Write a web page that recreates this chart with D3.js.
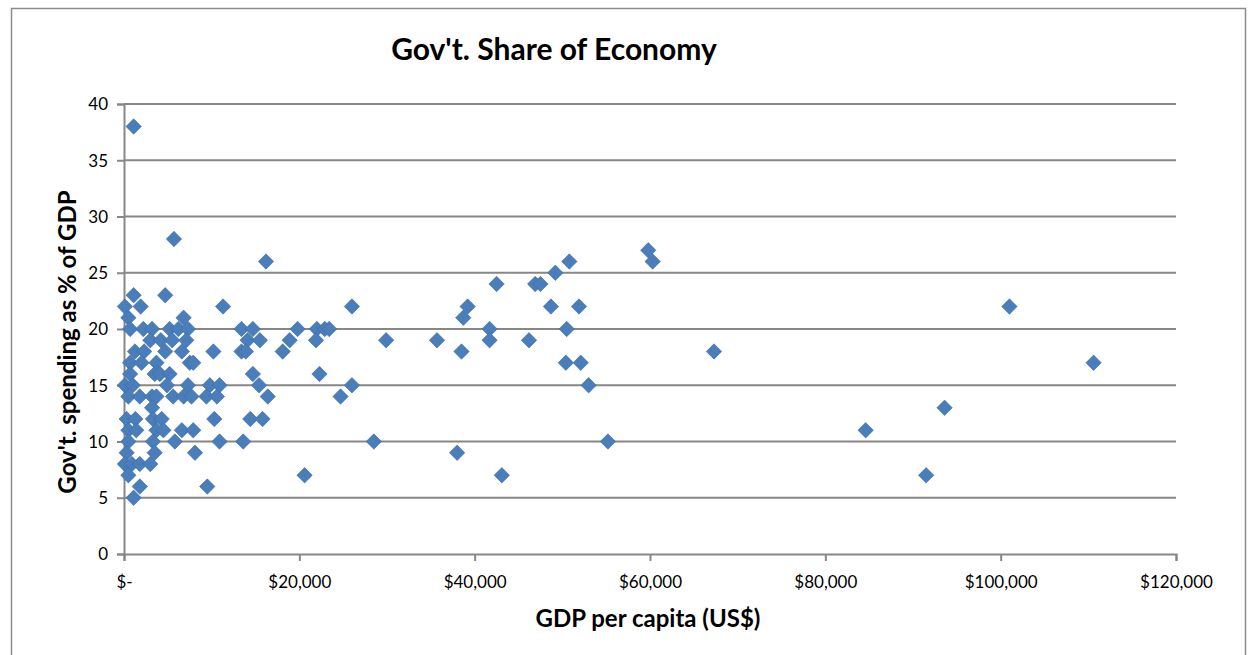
<!DOCTYPE html>
<html>
<head>
<meta charset="utf-8">
<script src="https://cdn.jsdelivr.net/npm/d3@7"></script>
<style>
  body { margin: 0; background: #fff; }
  svg { display: block; font-family: Lato, "Liberation Sans", Arial, sans-serif; }
</style>
</head>
<body>
<div id="chart"></div>
<script>
// GDP per capita in thousands of US$, spending as % of GDP
const gdpK = [
  1.1, 5.7, 16.2,
  1.1, 4.7,
  0.1, 1.9, 11.3, 26, 39.2, 48.7, 51.9, 101,
  0.5, 6.8, 38.7,
  0.7, 2.2, 3.2, 5.2, 6.2, 7.3, 13.4, 14.7, 19.8, 22, 22.9, 23.4, 41.7, 50.5,
  3, 4.2, 5.5, 7.1, 14.1, 15.5, 18.9, 21.9, 29.9, 35.7, 41.7, 46.2,
  1.25, 2.3, 4.7, 6.6, 10.2, 13.4, 13.9, 18.1, 38.5, 67.3,
  0.7, 2, 3.7, 7.5, 7.9, 50.4, 52.1, 110.6,
  0.7, 3.5, 4.1, 5.2, 14.7, 22.3,
  0.1, 1, 4.9, 7.3, 9.8, 10.9, 15.4, 26, 53,
  0.5, 1.8, 3.2, 3.7, 5.6, 6.8, 7.7, 9.4, 10.6, 16.4, 24.7,
  3.2, 93.6,
  0.3, 1.3, 3.3, 4.3, 10.3, 14.4, 15.8,
  0.5, 1.4, 3.7, 4.5, 6.6, 7.9, 84.6,
  0.5, 3.3, 5.8, 10.9, 13.6, 28.5, 55.2,
  0.3, 3.5, 8.1, 38,
  0.1, 0.9, 1.8, 3,
  0.5, 20.6, 43.1, 91.5,
  1.8, 9.5,
  1.1,
  42.5, 46.9, 47.5, 49.2, 50.8, 59.8, 60.3
];
const spending = [
  38, 28, 26,
  23, 23,
  22, 22, 22, 22, 22, 22, 22, 22,
  21, 21, 21,
  20, 20, 20, 20, 20, 20, 20, 20, 20, 20, 20, 20, 20, 20,
  19, 19, 19, 19, 19, 19, 19, 19, 19, 19, 19, 19,
  18, 18, 18, 18, 18, 18, 18, 18, 18, 18,
  17, 17, 17, 17, 17, 17, 17, 17,
  16, 16, 16, 16, 16, 16,
  15, 15, 15, 15, 15, 15, 15, 15, 15,
  14, 14, 14, 14, 14, 14, 14, 14, 14, 14, 14,
  13, 13,
  12, 12, 12, 12, 12, 12, 12,
  11, 11, 11, 11, 11, 11, 11,
  10, 10, 10, 10, 10, 10, 10,
  9, 9, 9, 9,
  8, 8, 8, 8,
  7, 7, 7, 7,
  6, 6,
  5,
  24, 24, 24, 25, 26, 27, 26
];
const xTicks = [0, 20000, 40000, 60000, 80000, 100000, 120000];
const yTicks = [0, 5, 10, 15, 20, 25, 30, 35, 40];

const title = "Gov't. Share of Economy";
const xTitle = "GDP per capita (US$)";
const yTitle = "Gov't. spending as % of GDP";

const W = 1248, H = 655;
const margin = { top: 104, right: 72, bottom: 101, left: 124 },
      width = W - margin.left - margin.right,
      height = H - margin.top - margin.bottom;

const root = d3.select("#chart")
  .append("svg")
  .attr("width", W)
  .attr("height", H);

// outer chart border (bottom edge runs off the picture)
root.append("rect")
  .attr("x", 11.5).attr("y", 8.5)
  .attr("width", 1234).attr("height", 700)
  .attr("fill", "none")
  .attr("stroke", "#8c8c8c")
  .attr("stroke-width", 1.5);

const svg = root.append("g")
  .attr("transform", `translate(${margin.left},${margin.top})`);

const x = d3.scaleLinear().domain([0, 120000]).range([0, width]);
const y = d3.scaleLinear().domain([0, 40]).range([height, 0]);

const gridColor = "#878787";

// horizontal gridlines
svg.append("g")
  .selectAll("line")
  .data(yTicks.filter(d => d > 0))
  .join("line")
  .attr("x1", 0).attr("x2", width)
  .attr("y1", d => y(d)).attr("y2", d => y(d))
  .attr("stroke", gridColor)
  .attr("stroke-width", 2);

const fmt = d => d === 0 ? "$-" : "$" + d3.format(",")(d);

const xAxis = svg.append("g")
  .attr("transform", `translate(0,${height})`)
  .call(d3.axisBottom(x).tickValues(xTicks).tickFormat(fmt).tickSize(7).tickPadding(15));

const yAxis = svg.append("g")
  .call(d3.axisLeft(y).tickValues(yTicks).tickSize(7).tickPadding(9));

[xAxis, yAxis].forEach(g => {
  g.select(".domain").attr("stroke", gridColor).attr("stroke-width", 2);
  g.selectAll(".tick line").attr("stroke", gridColor).attr("stroke-width", 2);
  g.selectAll(".tick text")
    .attr("fill", "#000")
    .style("font-size", "17px")
    .style("font-family", "Lato, 'Liberation Sans', Arial, sans-serif");
});
yAxis.selectAll(".tick text").attr("dy", "0.35em");

// titles
root.append("text")
  .attr("x", 554)
  .attr("y", 60)
  .attr("text-anchor", "middle")
  .style("font-size", "30px")
  .style("font-weight", "bold")
  .text(title);

root.append("text")
  .attr("x", margin.left + x(60000) - 2)
  .attr("y", 627)
  .attr("text-anchor", "middle")
  .style("font-size", "24px")
  .style("font-weight", "bold")
  .text(xTitle);

root.append("text")
  .attr("transform", "translate(76,342) rotate(-90)")
  .attr("text-anchor", "middle")
  .style("font-size", "24px")
  .style("font-weight", "bold")
  .text(yTitle);

// points
const pts = gdpK.map((g, i) => ({ gdp: g * 1000, pct: spending[i] }));
const diamond = d3.symbol().type(d3.symbolSquare).size(118);

svg.append("g")
  .selectAll("path")
  .data(pts)
  .join("path")
  .attr("d", diamond)
  .attr("transform", d => `translate(${x(d.gdp)},${y(d.pct)}) rotate(45)`)
  .attr("fill", "#4a7ebb")
  .attr("stroke", "#3d6ba3")
  .attr("stroke-width", 0.6);
</script>
</body>
</html>
